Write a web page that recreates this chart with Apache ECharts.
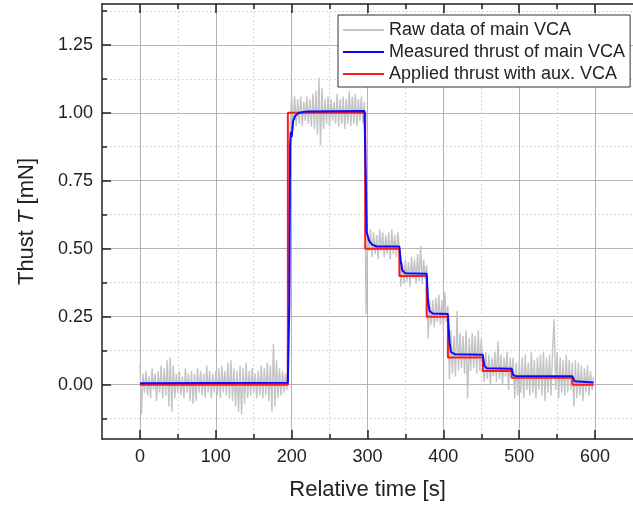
<!DOCTYPE html>
<html>
<head>
<meta charset="utf-8">
<script src="https://cdn.jsdelivr.net/npm/echarts@6/dist/echarts.min.js"></script>
<style>
  html, body { margin: 0; padding: 0; background: #fff; }
  #container { width: 633px; height: 509px; }
</style>
</head>
<body>
<div id="container"></div>
<script>
// axis ticks
var xMajorTicks = [0, 100, 200, 300, 400, 500, 600];
var xMinorTicks = [50, 150, 250, 350, 450, 550];
var yMajorTicks = [0, 0.25, 0.5, 0.75, 1.0, 1.25];
var yMinorTicks = [-0.125, 0.125, 0.375, 0.625, 0.875, 1.125, 1.375];

// raw data of main VCA, [time s, thrust mN]
var rawData = [
    [0,0.08],[2,-0.11],[4,0.04],[6,-0.03],[8,0.05],[10,-0.04],[12,0.03],[14,-0.05],[16,0.06],[18,-0.02],
    [20,0.04],[22,-0.06],[24,0.05],[26,-0.03],[28,0.07],[30,-0.05],[32,0.06],[34,-0.04],[36,0.09],[38,-0.08],
    [40,0.1],[42,-0.1],[44,0.07],[46,-0.05],[48,0.04],[50,-0.03],[52,0.05],[54,-0.04],[56,0.03],[58,-0.05],
    [60,0.06],[62,-0.03],[64,0.04],[66,-0.06],[68,0.05],[70,-0.07],[72,0.04],[74,-0.06],[76,0.06],[78,-0.03],
    [80,0.05],[82,-0.04],[84,0.04],[86,-0.05],[88,0.07],[90,-0.03],[92,0.05],[94,-0.05],[96,0.04],[98,-0.03],
    [100,0.05],[102,-0.04],[104,0.06],[106,-0.05],[108,0.07],[110,-0.03],[112,0.05],[114,-0.04],[116,0.08],[118,-0.05],
    [120,0.09],[122,-0.06],[124,0.06],[126,-0.08],[128,0.05],[130,-0.1],[132,0.07],[134,-0.11],[136,0.06],[138,-0.07],
    [140,0.08],[142,-0.05],[144,0.05],[146,-0.04],[148,0.06],[150,-0.03],[152,0.04],[154,-0.05],[156,0.05],[158,-0.04],
    [160,0.07],[162,-0.05],[164,0.06],[166,-0.04],[168,0.08],[170,-0.06],[172,0.07],[174,-0.1],[176,0.15],[178,-0.08],
    [180,0.09],[182,-0.05],[184,0.06],[186,-0.04],[188,0.05],[190,-0.03],[192,0.04],[194,-0.02],
    [196,0.45],[198,0.93],
    [200,1.07],[202,0.94],[204,1.06],[206,0.95],[208,1.05],[210,0.96],[212,1.06],[214,0.95],[216,1.04],[218,0.97],
    [220,1.06],[222,0.96],[224,1.05],[226,0.95],[228,1.07],[230,0.94],[232,1.08],[234,0.92],[236,1.13],[238,0.88],
    [240,1.09],[242,0.94],[244,1.05],[246,0.96],[248,1.06],[250,0.95],[252,1.05],[254,0.97],[256,1.04],[258,0.96],
    [260,1.07],[262,0.95],[264,1.05],[266,0.96],[268,1.06],[270,0.94],[272,1.05],[274,0.96],[276,1.08],[278,0.95],
    [280,1.06],[282,0.96],[284,1.07],[286,0.95],[288,1.05],[290,0.97],[292,1.06],[294,0.96],[296,1.04],
    [298,0.26],[300,0.56],
    [302,0.49],[304,0.57],[306,0.47],[308,0.56],[310,0.48],[312,0.55],[314,0.46],[316,0.57],[318,0.49],[320,0.56],
    [322,0.47],[324,0.55],[326,0.48],[328,0.56],[330,0.46],[332,0.57],[334,0.48],[336,0.55],[338,0.47],[340,0.56],
    [342,0.5],[344,0.36],[346,0.45],
    [348,0.37],[350,0.46],[352,0.38],[354,0.45],[356,0.36],[358,0.47],[360,0.39],[362,0.46],[364,0.37],[366,0.48],
    [368,0.38],[370,0.51],[372,0.37],[374,0.46],[376,0.39],[378,0.44],
    [380,0.17],[382,0.31],
    [384,0.22],[386,0.31],[388,0.21],[390,0.32],[392,0.23],[394,0.33],[396,0.22],[398,0.31],[400,0.2],[402,0.34],
    [404,0.23],[406,0.29],
    [408,0.02],[410,0.2],
    [412,0.04],[414,0.18],[416,0.03],[418,0.27],[420,0.05],[422,0.19],[424,0.06],[426,0.18],[428,0.04],[430,0.2],
    [432,-0.05],[434,0.17],[436,0.05],[438,0.19],[440,0.06],[442,0.18],[444,0.04],[446,0.2],[448,0.05],[450,0.17],
    [452,0.07],[454,0.01],[456,0.12],
    [458,0.02],[460,0.11],[462,0.0],[464,0.1],[466,0.03],[468,0.12],[470,0.01],[472,0.16],[474,0.02],[476,0.11],
    [478,0.0],[480,0.1],[482,0.03],[484,0.12],[486,-0.02],[488,0.1],[490,0.03],
    [492,0.1],[494,-0.05],[496,0.08],[498,-0.04],[500,0.09],[502,-0.03],[504,0.1],[506,-0.05],[508,0.11],[510,-0.02],
    [512,0.08],[514,-0.04],[516,0.12],[518,-0.03],[520,0.09],[522,-0.05],[524,0.1],[526,-0.02],[528,0.11],[530,-0.04],
    [532,0.12],[534,-0.06],[536,0.1],[538,-0.03],[540,0.11],[542,-0.04],[544,0.13],[546,0.24],[548,-0.02],[550,0.12],
    [552,-0.05],[554,0.1],[556,-0.03],[558,0.09],[560,-0.04],[562,0.11],[564,-0.03],[566,0.09],[568,-0.02],[570,0.08],
    [572,-0.08],[574,0.09],[576,-0.05],[578,0.08],[580,-0.04],[582,0.07],[584,-0.06],[586,0.06],[588,-0.03],[590,0.07],
    [592,-0.04],[594,0.05],[596,-0.02],[598,0.03]
];

// measured thrust of main VCA (filtered)
var measuredTime  = [0, 195, 197, 198, 199, 200, 202, 205, 210, 220, 296, 297.5, 299, 302, 306, 312, 342, 344, 346, 350, 378, 380, 382, 386, 406, 408, 410, 415, 452, 454, 457, 490, 492, 495, 570, 573, 598];
var measuredValue = [0.005, 0.007, 0.3, 0.88, 0.93, 0.91, 0.97, 0.99, 1.0, 1.005, 1.006, 0.8, 0.56, 0.53, 0.515, 0.508, 0.508, 0.45, 0.42, 0.41, 0.408, 0.3, 0.27, 0.262, 0.26, 0.16, 0.12, 0.112, 0.11, 0.07, 0.06, 0.058, 0.036, 0.032, 0.031, 0.012, 0.008];

// applied thrust with aux. VCA (steps)
var appliedTime  = [0, 195, 195, 297, 297, 342, 342, 378, 378, 406, 406, 452, 452, 490, 490, 570, 570, 598];
var appliedValue = [0, 0, 1.0, 1.0, 0.5, 0.5, 0.4, 0.4, 0.25, 0.25, 0.1, 0.1, 0.05, 0.05, 0.025, 0.025, 0, 0];

var FONT = 'Liberation Sans, Arial, sans-serif';

function zipData(t, v) {
    var out = [];
    for (var i = 0; i < t.length; i++) {
        out.push([t[i], v[i]]);
    }
    return out;
}

// one axis = either the major or the minor set of ticks
function xAxisOf(pos, ticks, major) {
    return {
        type: 'value', position: pos, min: -50, max: 650,
        axisLine: { show: major, onZero: false, lineStyle: { color: '#222', width: 1.5 } },
        axisTick: { show: true, inside: true, length: major ? 9 : 5, customValues: ticks,
            lineStyle: { color: '#222', width: 1.5 } },
        axisLabel: { show: major && pos == 'bottom', customValues: ticks, margin: 9,
            fontFamily: FONT, fontSize: 18, color: '#222' },
        splitLine: { show: pos == 'bottom', lineStyle: major
            ? { color: '#b4b4b4', width: 1, type: 'solid' }
            : { color: '#d8d8d8', width: 1, type: [2, 2] } },
        name: (major && pos == 'bottom') ? 'Relative time [s]' : '',
        nameLocation: 'middle', nameGap: 40,
        nameTextStyle: { fontFamily: FONT, fontSize: 22, color: '#222' }
    };
}

function yAxisOf(ticks, major) {
    return {
        type: 'value', position: 'left', min: -0.2, max: 1.4,
        axisLine: { show: major, onZero: false, lineStyle: { color: '#222', width: 1.5 } },
        axisTick: { show: true, inside: true, length: major ? 9 : 5, customValues: ticks,
            lineStyle: { color: '#222', width: 1.5 } },
        axisLabel: { show: major, customValues: ticks, margin: 9,
            fontFamily: FONT, fontSize: 18, color: '#222',
            formatter: function (v) { return v.toFixed(2); } },
        splitLine: { show: true, lineStyle: major
            ? { color: '#b4b4b4', width: 1, type: 'solid' }
            : { color: '#d8d8d8', width: 1, type: [2, 2] } },
        name: major ? '{n|Thust }{i|T}{n| [mN]}' : '',
        nameLocation: 'middle', nameGap: 64,
        nameTextStyle: {
            rich: {
                n: { fontFamily: FONT, fontSize: 22, color: '#222' },
                i: { fontFamily: FONT, fontSize: 22, color: '#222', fontStyle: 'italic' }
            }
        }
    };
}

function initOption() {
    return {
        animation: false,
        backgroundColor: '#fff',
        grid: { left: 102, top: 4, right: -7, bottom: 70, containLabel: false },
        legend: {
            orient: 'vertical', left: 338, top: 15,
            padding: [6, 5, 4, 4], itemGap: 4, itemWidth: 41, itemHeight: 18,
            backgroundColor: '#fff', borderColor: '#333', borderWidth: 1,
            itemStyle: { opacity: 0 },
            textStyle: { fontFamily: FONT, fontSize: 18, color: '#222' },
            data: ['Raw data of main VCA', 'Measured thrust of main VCA', 'Applied thrust with aux. VCA']
        },
        xAxis: [
            xAxisOf('bottom', xMajorTicks, true),
            xAxisOf('bottom', xMinorTicks, false),
            xAxisOf('top', xMajorTicks, true),
            xAxisOf('top', xMinorTicks, false)
        ],
        yAxis: [
            yAxisOf(yMajorTicks, true),
            yAxisOf(yMinorTicks, false)
        ],
        series: [
            {
                name: 'Raw data of main VCA', type: 'line', z: 2,
                data: rawData, symbol: 'none', showSymbol: false,
                lineStyle: { color: '#c4c4c4', width: 1.4 }, itemStyle: { color: '#c4c4c4' }
            },
            {
                name: 'Measured thrust of main VCA', type: 'line', z: 4,
                data: zipData(measuredTime, measuredValue), symbol: 'none', showSymbol: false,
                lineStyle: { color: '#0a0aff', width: 2 }, itemStyle: { color: '#0a0aff' }
            },
            {
                name: 'Applied thrust with aux. VCA', type: 'line', z: 3,
                data: zipData(appliedTime, appliedValue), symbol: 'none', showSymbol: false,
                lineStyle: { color: '#ff1a1a', width: 2 }, itemStyle: { color: '#ff1a1a' }
            }
        ]
    };
}

var myChart = echarts.init(document.getElementById('container'), null, { renderer: 'canvas' });
myChart.setOption(initOption());
</script>
</body>
</html>
